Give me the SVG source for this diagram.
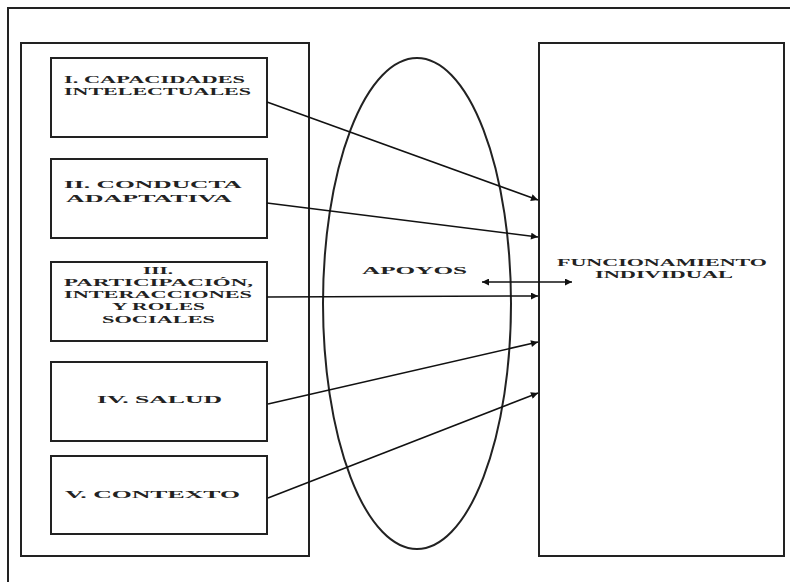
<svg xmlns="http://www.w3.org/2000/svg" width="790" height="582" viewBox="0 0 790 582">
<defs>
<style>
.frame{fill:none;stroke:#222;stroke-width:2}
.box{fill:#fff;stroke:#222;stroke-width:2}
.lbl{font-family:"Liberation Serif","Times New Roman",serif;font-weight:bold;font-size:11px;fill:#222}
.conn{fill:none;stroke:#111;stroke-width:1.5}
</style>
<marker id="ah" viewBox="0 0 10 10" refX="10" refY="5" markerWidth="9" markerHeight="7" markerUnits="userSpaceOnUse" orient="auto">
<path d="M0,0 L10,5 L0,10 z" fill="#111"/>
</marker>
<marker id="ahs" viewBox="0 0 10 10" refX="0" refY="5" markerWidth="9" markerHeight="7" markerUnits="userSpaceOnUse" orient="auto">
<path d="M10,0 L0,5 L10,10 z" fill="#111"/>
</marker>
</defs>
<rect width="790" height="582" fill="#fff"/>
<path class="frame" d="M8,582 L8,8 L790,8"/>
<g id="dimensiones">
<rect class="frame" x="21" y="43" width="288" height="513"/>
</g>
<g id="capacidades">
<rect class="box" x="51" y="58" width="216" height="79"/>
<text class="lbl" x="64" y="83" textLength="181" lengthAdjust="spacingAndGlyphs">I. CAPACIDADES</text>
<text class="lbl" x="64" y="95" textLength="187" lengthAdjust="spacingAndGlyphs">INTELECTUALES</text>
</g>
<g id="conducta">
<rect class="box" x="51" y="159" width="216" height="79"/>
<text class="lbl" x="64" y="188" textLength="178" lengthAdjust="spacingAndGlyphs">II. CONDUCTA</text>
<text class="lbl" x="66" y="202" textLength="166" lengthAdjust="spacingAndGlyphs">ADAPTATIVA</text>
</g>
<g id="participacion">
<rect class="box" x="51" y="262" width="216" height="79"/>
<text class="lbl" x="143" y="274" textLength="30" lengthAdjust="spacingAndGlyphs">III.</text>
<text class="lbl" x="64" y="286" textLength="189" lengthAdjust="spacingAndGlyphs">PARTICIPACIÓN,</text>
<text class="lbl" x="64" y="298" textLength="188" lengthAdjust="spacingAndGlyphs">INTERACCIONES</text>
<text class="lbl" x="112" y="310" textLength="93" lengthAdjust="spacingAndGlyphs">Y ROLES</text>
<text class="lbl" x="102" y="323" textLength="113" lengthAdjust="spacingAndGlyphs">SOCIALES</text>
</g>
<g id="salud">
<rect class="box" x="51" y="362" width="216" height="79"/>
<text class="lbl" x="97" y="403" textLength="125" lengthAdjust="spacingAndGlyphs">IV. SALUD</text>
</g>
<g id="contexto">
<rect class="box" x="51" y="456" width="216" height="78"/>
<text class="lbl" x="65" y="498" textLength="175" lengthAdjust="spacingAndGlyphs">V. CONTEXTO</text>
</g>
<g id="apoyos">
<ellipse class="frame" cx="417" cy="303.5" rx="94" ry="245.5"/>
<text class="lbl" x="362" y="274" textLength="105" lengthAdjust="spacingAndGlyphs">APOYOS</text>
</g>
<g id="funcionamiento">
<rect class="frame" x="539" y="43" width="245" height="513"/>
<text class="lbl" x="557" y="266" textLength="210" lengthAdjust="spacingAndGlyphs">FUNCIONAMIENTO</text>
<text class="lbl" x="595" y="278" textLength="138" lengthAdjust="spacingAndGlyphs">INDIVIDUAL</text>
</g>
<g id="connectors">
<line class="conn" x1="267" y1="102" x2="538" y2="200" marker-end="url(#ah)"/>
<line class="conn" x1="267" y1="203" x2="538" y2="237" marker-end="url(#ah)"/>
<line class="conn" x1="267" y1="297" x2="538" y2="296" marker-end="url(#ah)"/>
<line class="conn" x1="268" y1="404" x2="538" y2="342" marker-end="url(#ah)"/>
<line class="conn" x1="268" y1="498" x2="538" y2="393" marker-end="url(#ah)"/>
<line class="conn" x1="482" y1="282" x2="572" y2="282" marker-start="url(#ahs)" marker-end="url(#ah)"/>
</g>
</svg>
